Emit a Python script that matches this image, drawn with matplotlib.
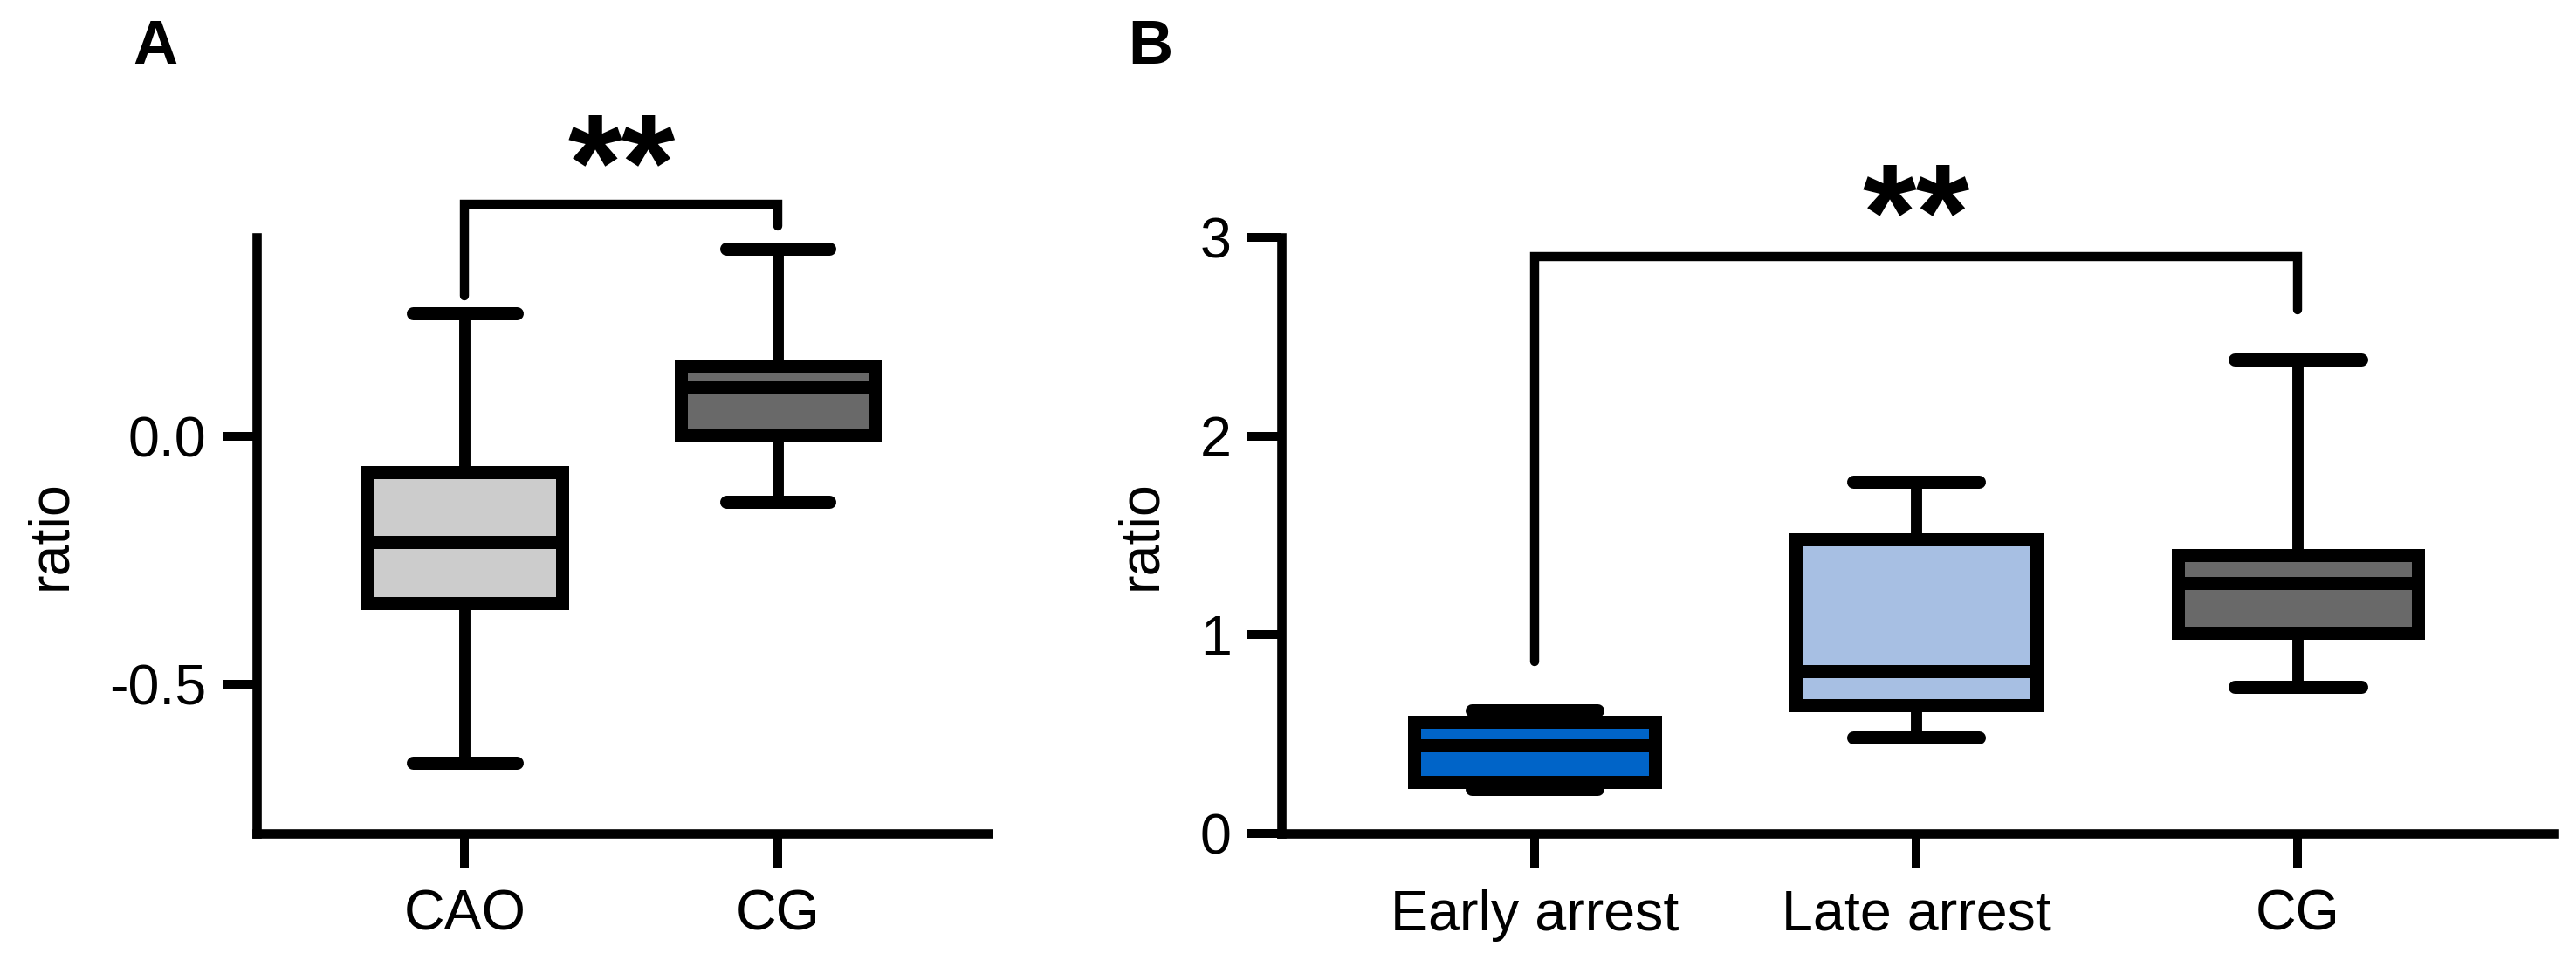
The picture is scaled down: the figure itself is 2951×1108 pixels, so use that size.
import matplotlib
matplotlib.use('Agg')
import matplotlib.pyplot as plt

# ---- data ----
a_groups = ['CAO', 'CG']
a_whislo = [-0.657, -0.132]
a_q1 = [-0.336, 0.003]
a_med = [-0.214, 0.099]
a_q3 = [-0.073, 0.142]
a_whishi = [0.248, 0.377]
a_colors = ['#CCCCCC', '#696969']

b_groups = ['Early arrest', 'Late arrest', 'CG']
b_whislo = [0.222, 0.483, 0.74]
b_q1 = [0.261, 0.647, 1.01]
b_med = [0.443, 0.815, 1.26]
b_q3 = [0.564, 1.479, 1.40]
b_whishi = [0.621, 1.772, 2.387]
b_colors = ['#0064C8', '#A7BFE3', '#696969']

# significance brackets: (left group, right group, left end, top, right end)
a_bracket = (0, 1, 0.283, 0.466, 0.423)
b_bracket = (0, 2, 0.865, 2.905, 2.637)
a_star_y = 0.455
b_star_y = 2.89

plt.rcParams['font.family'] = 'Liberation Sans'
plt.rcParams['axes.unicode_minus'] = False

W, H = 2951, 1108
fig = plt.figure(figsize=(W / 300, H / 300), dpi=300)

LW = 3.6
SPINE_LW = 2.55
FS = 15.5


def stats(groups, lo, q1, med, q3, hi):
    return [dict(label=g, whislo=a, q1=b, med=c, q3=d, whishi=e)
            for g, a, b, c, d, e in zip(groups, lo, q1, med, q3, hi)]


def style_axes(ax):
    for s in ['top', 'right']:
        ax.spines[s].set_visible(False)
    for s in ['left', 'bottom']:
        ax.spines[s].set_linewidth(SPINE_LW)
        ax.spines[s].set_capstyle('projecting')
    ax.tick_params(direction='out', length=9.3, width=2.4, labelsize=FS, pad=4.5)
    ax.tick_params(axis='x', pad=6)
    ax.set_ylabel('ratio', fontsize=FS, labelpad=9)


def draw_box(ax, st, colors, width):
    bp = ax.bxp(st, positions=range(len(st)), widths=width, capwidths=0.33,
                patch_artist=True, showfliers=False,
                boxprops=dict(linewidth=LW, edgecolor='black'),
                medianprops=dict(color='black', linewidth=LW, solid_capstyle='butt'),
                whiskerprops=dict(color='black', linewidth=3.1),
                capprops=dict(color='black', linewidth=LW, solid_capstyle='round'))
    for patch, c in zip(bp['boxes'], colors):
        patch.set_facecolor(c)
        patch.set_joinstyle('miter')
    return bp


def bracket(ax, br, star_y):
    x0, x1, yl, yt, yr = br
    ax.plot([x0, x0, x1, x1], [yl, yt, yt, yr], color='black', lw=2.5,
            solid_capstyle='round', solid_joinstyle='miter', clip_on=False)
    ax.text((x0 + x1) / 2, star_y, '**', ha='center', va='baseline',
            fontsize=38, fontweight='bold', clip_on=False)


# Panel A
axA = fig.add_axes([294 / W, 153 / H, (1132 - 294) / W, 683 / H])
draw_box(axA, stats(a_groups, a_whislo, a_q1, a_med, a_q3, a_whishi), a_colors, 0.62)
axA.set_xlim(-0.665, 1.672)
axA.set_ylim(-0.8, 0.4)
axA.set_yticks([-0.5, 0.0])
axA.set_yticklabels(['-0.5', '0.0'])
axA.set_xticks(range(len(a_groups)))
axA.set_xticklabels(a_groups)
style_axes(axA)
bracket(axA, a_bracket, a_star_y)

# Panel B
axB = fig.add_axes([1468 / W, 153 / H, (2925 - 1468) / W, 683 / H])
draw_box(axB, stats(b_groups, b_whislo, b_q1, b_med, b_q3, b_whishi), b_colors, 0.63)
axB.set_xlim(-0.663, 2.669)
axB.set_ylim(0, 3)
axB.set_yticks([0, 1, 2, 3])
axB.set_xticks(range(len(b_groups)))
axB.set_xticklabels(b_groups)
style_axes(axB)
bracket(axB, b_bracket, b_star_y)

fig.text(178 / W, 1 - 55 / H, 'A', fontsize=17, fontweight='bold', ha='center', va='center')
fig.text(1318 / W, 1 - 55 / H, 'B', fontsize=17, fontweight='bold', ha='center', va='center')

fig.savefig('out.png', dpi=300)
